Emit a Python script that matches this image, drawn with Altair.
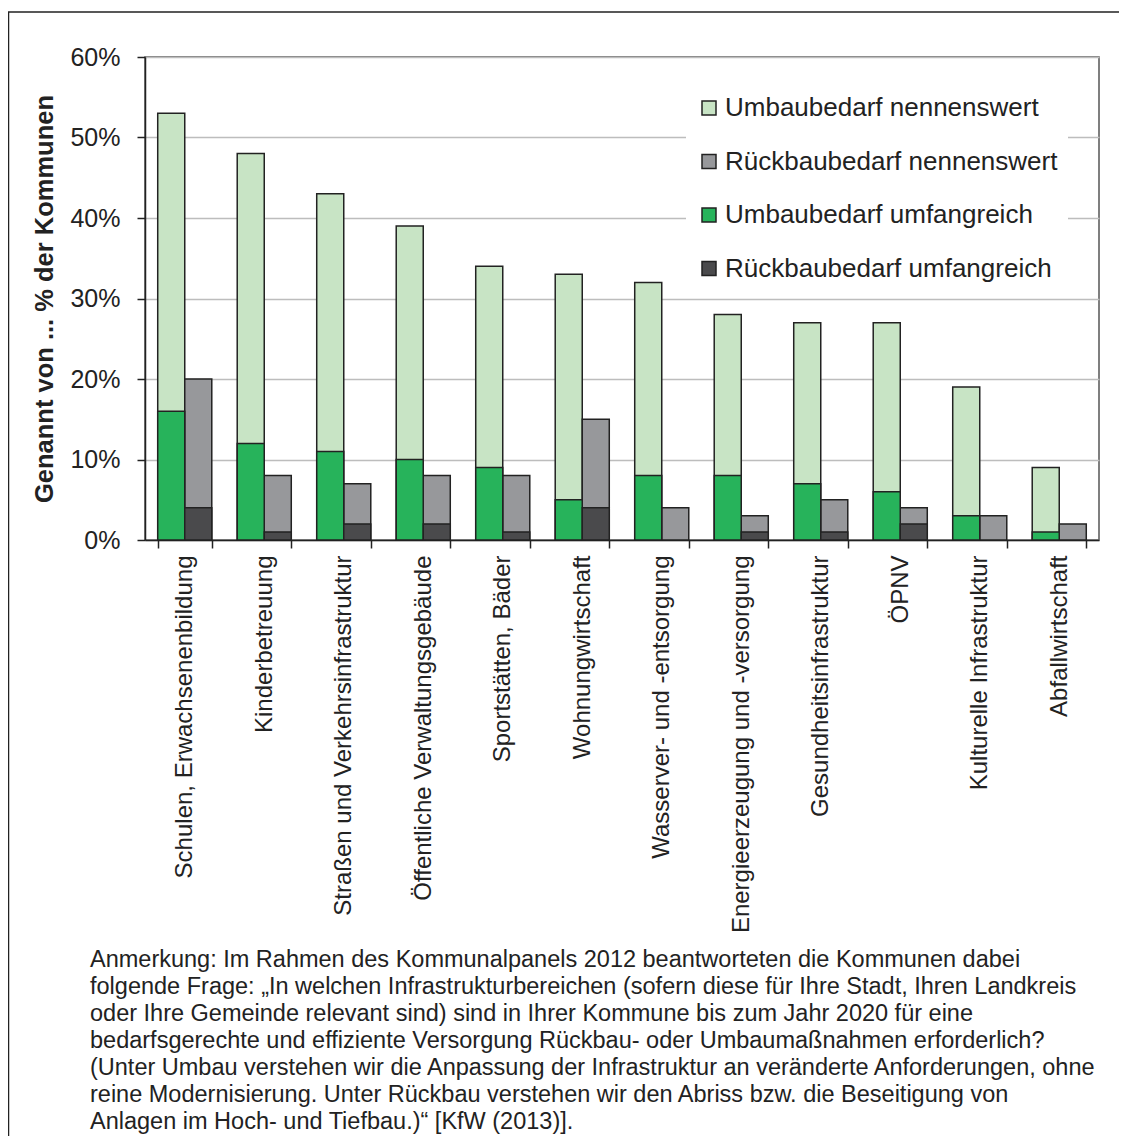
import altair as alt
import pandas as pd

FONT = "Liberation Sans"

categories = [
    "Schulen, Erwachsenenbildung",
    "Kinderbetreuung",
    "Straßen und Verkehrsinfrastruktur",
    "Öffentliche Verwaltungsgebäude",
    "Sportstätten, Bäder",
    "Wohnungwirtschaft",
    "Wasserver- und -entsorgung",
    "Energieerzeugung und -versorgung",
    "Gesundheitsinfrastruktur",
    "ÖPNV",
    "Kulturelle Infrastruktur",
    "Abfallwirtschaft",
]
umbau_nennenswert = [53, 48, 43, 39, 34, 33, 32, 28, 27, 27, 19, 9]
umbau_umfangreich = [16, 12, 11, 10, 9, 5, 8, 8, 7, 6, 3, 1]
rueckbau_nennenswert = [20, 8, 7, 8, 8, 15, 4, 3, 5, 4, 3, 2]
rueckbau_umfangreich = [4, 1, 2, 2, 1, 4, 0, 1, 1, 2, 0, 0]

groups = ["Umbau", "Rückbau"]
series_names = [
    "Umbaubedarf nennenswert",
    "Rückbaubedarf nennenswert",
    "Umbaubedarf umfangreich",
    "Rückbaubedarf umfangreich",
]
series_colors = ["#C8E4C5", "#97989B", "#27B35B", "#4A4A4C"]
y_ticks = [0, 10, 20, 30, 40, 50, 60]

note_lines = [
    "Anmerkung: Im Rahmen des Kommunalpanels 2012 beantworteten die Kommunen dabei",
    "folgende Frage: „In welchen Infrastrukturbereichen (sofern diese für Ihre Stadt, Ihren Landkreis",
    "oder Ihre Gemeinde relevant sind) sind in Ihrer Kommune bis zum Jahr 2020 für eine",
    "bedarfsgerechte und effiziente Versorgung Rückbau- oder Umbaumaßnahmen erforderlich?",
    "(Unter Umbau verstehen wir die Anpassung der Infrastruktur an veränderte Anforderungen, ohne",
    "reine Modernisierung. Unter Rückbau verstehen wir den Abriss bzw. die Beseitigung von",
    "Anlagen im Hoch- und Tiefbau.)“ [KfW (2013)].",
]

rows = []
for i, c in enumerate(categories):
    rows.append(dict(cat=c, grp="Umbau", series=series_names[0], value=umbau_nennenswert[i], level=0))
    rows.append(dict(cat=c, grp="Rückbau", series=series_names[1], value=rueckbau_nennenswert[i], level=0))
    rows.append(dict(cat=c, grp="Umbau", series=series_names[2], value=umbau_umfangreich[i], level=1))
    rows.append(dict(cat=c, grp="Rückbau", series=series_names[3], value=rueckbau_umfangreich[i], level=1))
df = pd.DataFrame(rows)

x_enc = alt.X(
    "cat:N",
    sort=categories,
    scale=alt.Scale(paddingInner=0.32, paddingOuter=0.16),
    axis=alt.Axis(
        title=None,
        labelAngle=270,
        labelFontSize=24,
        labelFont=FONT,
        labelColor="#222222",
        labelPadding=7,
        labelLimit=500,
        tickBand="extent",
        tickSize=8,
        tickColor="#222222",
        tickWidth=1.5,
        domainColor="#222222",
        domainWidth=1.5,
        grid=False,
    ),
)
xoff = alt.XOffset("grp:N", sort=groups, scale=alt.Scale(paddingInner=0, paddingOuter=0))
y_enc = alt.Y(
    "value:Q",
    stack=None,
    scale=alt.Scale(domain=[0, 60], nice=False),
    axis=alt.Axis(
        values=y_ticks,
        labelExpr="datum.value + '%'",
        labelFontSize=25,
        labelFont=FONT,
        labelColor="#222222",
        labelPadding=17,
        tickSize=8,
        tickColor="#222222",
        tickWidth=1.5,
        domainColor="#222222",
        domainWidth=1.5,
        grid=True,
        gridColor="#BDBDBD",
        gridWidth=1.5,
        title="Genannt von ... % der Kommunen",
        titleFont=FONT,
        titleFontSize=25.5,
        titleFontWeight="bold",
        titleColor="#222222",
        titleAngle=270,
        titleX=-101,
        titleY=241.5,
        titleAlign="center",
        titleBaseline="middle",
    ),
)
color_enc = alt.Color(
    "series:N",
    scale=alt.Scale(domain=series_names, range=series_colors),
    legend=alt.Legend(
        title=None,
        orient="none",
        legendX=541,
        legendY=28,
        direction="vertical",
        fillColor="white",
        padding=10,
        symbolType="square",
        symbolSize=196,
        symbolStrokeColor="#222222",
        symbolStrokeWidth=1.5,
        symbolOpacity=1,
        labelFont=FONT,
        labelFontSize=26,
        labelColor="#222222",
        labelOffset=3,
        labelLimit=500,
        rowPadding=27.5,
    ),
)

base = alt.Chart(df).mark_bar(stroke="#222222", strokeWidth=1.5, opacity=1).encode(
    x=x_enc, xOffset=xoff, y=y_enc, color=color_enc
)
bars_total = base.transform_filter("datum.level == 0")
bars_major = base.transform_filter("datum.level == 1 && datum.value > 0")

frame = alt.Chart(alt.Data(values=[{"k": 1}])).mark_rect(
    filled=False, color="#222222", strokeWidth=1.5
).encode(
    x=alt.value(-136.5), x2=alt.value(990), y=alt.value(-45), y2=alt.value(1090)
)

note = alt.Chart(alt.Data(values=[{"k": 1}])).mark_text(
    text=note_lines,
    font=FONT,
    fontSize=23.5,
    color="#222222",
    align="left",
    baseline="alphabetic",
    lineHeight=27,
).encode(x=alt.value(-55), y=alt.value(910))

chart = alt.layer(frame, bars_total, bars_major, note).properties(
    width=954,
    height=483,
    autosize=alt.AutoSizeParams(type="none"),
    padding={"left": 137, "top": 49, "right": 20, "bottom": 596},
    background="white",
).configure_view(stroke="#555555", strokeWidth=1.5)

chart.save("out.html", embed_options={"renderer": "svg", "actions": False})
